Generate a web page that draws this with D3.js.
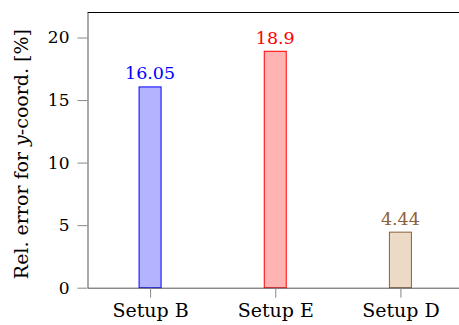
<!DOCTYPE html>
<html><head><meta charset="utf-8">
<script src="https://cdn.jsdelivr.net/npm/d3@7"></script>
<style>
html,body{margin:0;padding:0;background:#fff;}
svg{display:block;}
</style></head>
<body>
<script>
const categories = ["Setup B", "Setup E", "Setup D"];
const values = [16.05, 18.9, 4.44];
const labels = ["16.05", "18.9", "4.44"];
const strokeColors = ["#0000ff", "#ff0000", "#8c603a"];
const fillColors = ["#b3b3ff", "#ffb3b3", "#ecd9c6"];
const yTicks = [0, 5, 10, 15, 20];

const FONT = "'DejaVu Serif', serif";
const W = 459, H = 325;
const m = {left: 87.5, top: 12.5, right: 463, bottom: 287.7};

const svg = d3.select("body").append("svg").attr("width", W).attr("height", H);

const x = d3.scalePoint().domain(categories).range([m.left, m.right]).padding(0.5);
const y = d3.scaleLinear().domain([0, 22]).range([m.bottom, m.top]);
const barW = 22;

svg.append("line").attr("x1", m.left).attr("x2", m.right).attr("y1", m.top).attr("y2", m.top)
  .attr("stroke", "#000").attr("stroke-width", 1);

const data = categories.map((c, i) => ({c, v: values[i], l: labels[i], s: strokeColors[i], f: fillColors[i]}));
svg.selectAll("rect.bar").data(data).enter().append("rect")
  .attr("class", "bar")
  .attr("x", d => x(d.c) - barW / 2)
  .attr("width", barW)
  .attr("y", d => y(d.v))
  .attr("height", d => y(0) - y(d.v))
  .attr("fill", d => d.f)
  .attr("stroke", d => d.s)
  .attr("stroke-width", 1);

svg.selectAll("text.val").data(data).enter().append("text")
  .attr("class", "val")
  .attr("x", d => x(d.c))
  .attr("y", d => y(d.v) - 7.5)
  .attr("text-anchor", "middle")
  .style("font-family", FONT)
  .style("font-size", "17.5px")
  .attr("fill", d => d.s)
  .text(d => d.l);

const yAxis = svg.append("g").attr("transform", `translate(${m.left},0)`)
  .call(d3.axisLeft(y).tickValues(yTicks).tickSize(10).tickSizeOuter(0).tickPadding(8));
yAxis.attr("font-family", null).attr("font-size", null);
yAxis.select(".domain").attr("stroke", "#555");
yAxis.selectAll(".tick line").attr("stroke", "#888");
yAxis.selectAll(".tick text").attr("fill", "#000")
  .style("font-family", FONT).style("font-size", "17px");

const xAxis = svg.append("g").attr("transform", `translate(0,${m.bottom})`)
  .call(d3.axisBottom(x).tickSize(10).tickSizeOuter(0).tickPadding(6));
xAxis.attr("font-family", null).attr("font-size", null);
xAxis.select(".domain").attr("stroke", "#555");
xAxis.selectAll(".tick line").attr("stroke", "#888");
xAxis.selectAll(".tick text").attr("fill", "#000")
  .style("font-family", FONT).style("font-size", "19px");

const yl = svg.append("text")
  .attr("transform", `translate(27.5,${(m.top + m.bottom) / 2 + 4}) rotate(-90)`)
  .attr("text-anchor", "middle")
  .style("font-family", FONT)
  .style("font-size", "19px")
  .attr("fill", "#000");
yl.append("tspan").text("Rel. error for ");
yl.append("tspan").style("font-style", "italic").text("y");
yl.append("tspan").text("-coord. [%]");
</script>
</body></html>
